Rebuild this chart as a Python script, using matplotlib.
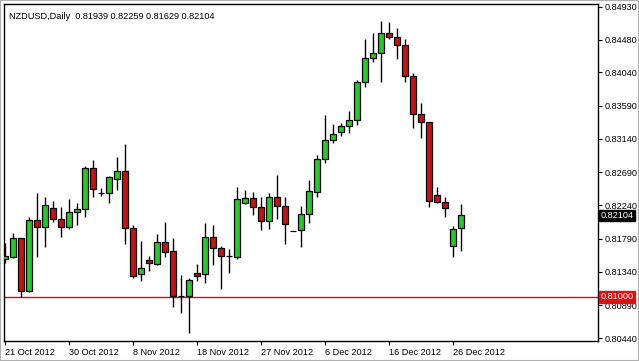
import matplotlib as mpl
mpl.use('Agg')
import matplotlib.pyplot as plt
from matplotlib.patches import Rectangle

plt.rcParams['font.family'] = ['Liberation Sans', 'DejaVu Sans']

# daily NZDUSD bars, 21 Oct 2012 .. 27 Dec 2012 (Sunday bars included)
opens = [0.81514, 0.81541, 0.81798, 0.81081, 0.82042, 0.81947, 0.82204, 0.82055,
         0.81947, 0.82150, 0.82191, 0.82746, 0.82410, 0.82408, 0.82597, 0.82705,
         0.81934, 0.81311, 0.81500, 0.81446, 0.81744, 0.81622, 0.81013, 0.81013,
         0.81324, 0.81311, 0.81812, 0.81663, 0.81556, 0.81541, 0.82272, 0.82340,
         0.82218, 0.82028, 0.82353, 0.82232, 0.81893, 0.81906, 0.82123, 0.82421,
         0.82868, 0.83125, 0.83233, 0.83315, 0.83396, 0.83910, 0.84235, 0.84303,
         0.84574, 0.84520, 0.84411, 0.83992, 0.83477, 0.83369, 0.82380, 0.82286,
         0.81690, 0.81939]
highs = [0.81731, 0.81866, 0.81798, 0.82083, 0.82408, 0.82353, 0.82299, 0.82218,
         0.82326, 0.82272, 0.82773, 0.82854, 0.82475, 0.82638, 0.82895, 0.83071,
         0.81974, 0.81758, 0.81554, 0.81852, 0.82015, 0.81798, 0.81297, 0.81257,
         0.81446, 0.82001, 0.81974, 0.81690, 0.81649, 0.82489, 0.82448, 0.82421,
         0.82353, 0.82408, 0.82651, 0.82353, 0.81895, 0.82232, 0.82584, 0.82922,
         0.83464, 0.83342, 0.83355, 0.83518, 0.83938, 0.84493, 0.84574, 0.84736,
         0.84722, 0.84642, 0.84493, 0.84032, 0.83626, 0.83375, 0.82489, 0.82353,
         0.81961, 0.82259]
lows = [0.81460, 0.81527, 0.81005, 0.81070, 0.81541, 0.81676, 0.82015, 0.81812,
        0.81920, 0.81974, 0.82083, 0.82353, 0.82367, 0.82272, 0.82448, 0.81717,
        0.81257, 0.81216, 0.81351, 0.81433, 0.81541, 0.80864, 0.80783, 0.80512,
        0.81216, 0.81189, 0.81433, 0.81108, 0.81324, 0.81514, 0.82265, 0.82110,
        0.81906, 0.81920, 0.82055, 0.81717, 0.81888, 0.81676, 0.82001, 0.82353,
        0.82814, 0.83085, 0.83179, 0.83220, 0.83328, 0.83843, 0.84181, 0.83910,
        0.84493, 0.84222, 0.83910, 0.83288, 0.83152, 0.82218, 0.82272, 0.82083,
        0.81541, 0.81629]
closes = [0.81554, 0.81798, 0.81081, 0.82042, 0.81947, 0.82245, 0.82055, 0.81947,
          0.82150, 0.82191, 0.82746, 0.82462, 0.82405, 0.82624, 0.82705, 0.81934,
          0.81284, 0.81392, 0.81460, 0.81744, 0.81609, 0.81013, 0.81010, 0.81230,
          0.81284, 0.81812, 0.81663, 0.81554, 0.81552, 0.82326, 0.82340, 0.82218,
          0.82028, 0.82353, 0.82232, 0.81988, 0.81890, 0.82123, 0.82435, 0.82868,
          0.83125, 0.83206, 0.83315, 0.83396, 0.83910, 0.84235, 0.84303, 0.84574,
          0.84520, 0.84411, 0.83992, 0.83477, 0.83369, 0.82299, 0.82286, 0.82204,
          0.81920, 0.82104]

date_ticks = [0, 8, 16, 24, 32, 40, 48, 56]
date_labels = ['21 Oct 2012', '30 Oct 2012', '8 Nov 2012', '18 Nov 2012',
               '27 Nov 2012', '6 Dec 2012', '16 Dec 2012', '26 Dec 2012']
price_ticks = [0.84930, 0.84480, 0.84040, 0.83590, 0.83140, 0.82690,
               0.82240, 0.81790, 0.81340, 0.80890, 0.80440]
level = 0.81000
title = 'NZDUSD,Daily  0.81939 0.82259 0.81629 0.82104'

up_col = '#22cc22'
dn_col = '#cc1111'

fig = plt.figure(figsize=[6.39, 3.61], dpi=100)
ax = fig.add_axes([4/639, 1-341/361, 594/639, 337/361])

idx = list(range(len(opens)))
ax.vlines(idx, lows, highs, color='black', lw=1, zorder=2)
bottoms = [min(o, c) for o, c in zip(opens, closes)]
heights = [abs(c - o) for o, c in zip(opens, closes)]
cols = [up_col if c >= o else dn_col for o, c in zip(opens, closes)]
ax.bar(idx, heights, bottom=bottoms, width=0.7, color=cols,
       edgecolor='black', linewidth=0.9, zorder=3)

ax.axhline(level, color='#cc1111', lw=1, zorder=1)

ax.set_xlim(-0.125, 74.125)
ax.set_ylim(0.80404, 0.84967)

ax.yaxis.tick_right()
ax.set_yticks(price_ticks)
ax.set_yticklabels(['%.5f' % v for v in price_ticks])
ax.set_xticks(date_ticks)
ax.set_xticklabels(date_labels, ha='left')
ax.tick_params(axis='both', labelsize=6.6, length=3, width=0.8, color='black', pad=2)
for sp in ax.spines.values():
    sp.set_color('black')
    sp.set_linewidth(1)

ax.text(0.008, 0.975, title, transform=ax.transAxes, fontsize=6.6,
        va='top', ha='left')

# price markers on the right axis
for v, bg in [(closes[-1], 'black'), (level, '#e01010')]:
    ax.text(1.004, v, '%.5f' % v, transform=ax.get_yaxis_transform(),
            fontsize=6.6, color='white', va='center', ha='left', zorder=10,
            clip_on=False,
            bbox=dict(boxstyle='square,pad=0.15', fc=bg, ec=bg))

fig.patches.append(Rectangle((0, 0), 1, 1, transform=fig.transFigure,
                             fill=False, ec='#b0b0b0', lw=1.5))

plt.savefig('out.png', dpi=100)
plt.close(fig)
